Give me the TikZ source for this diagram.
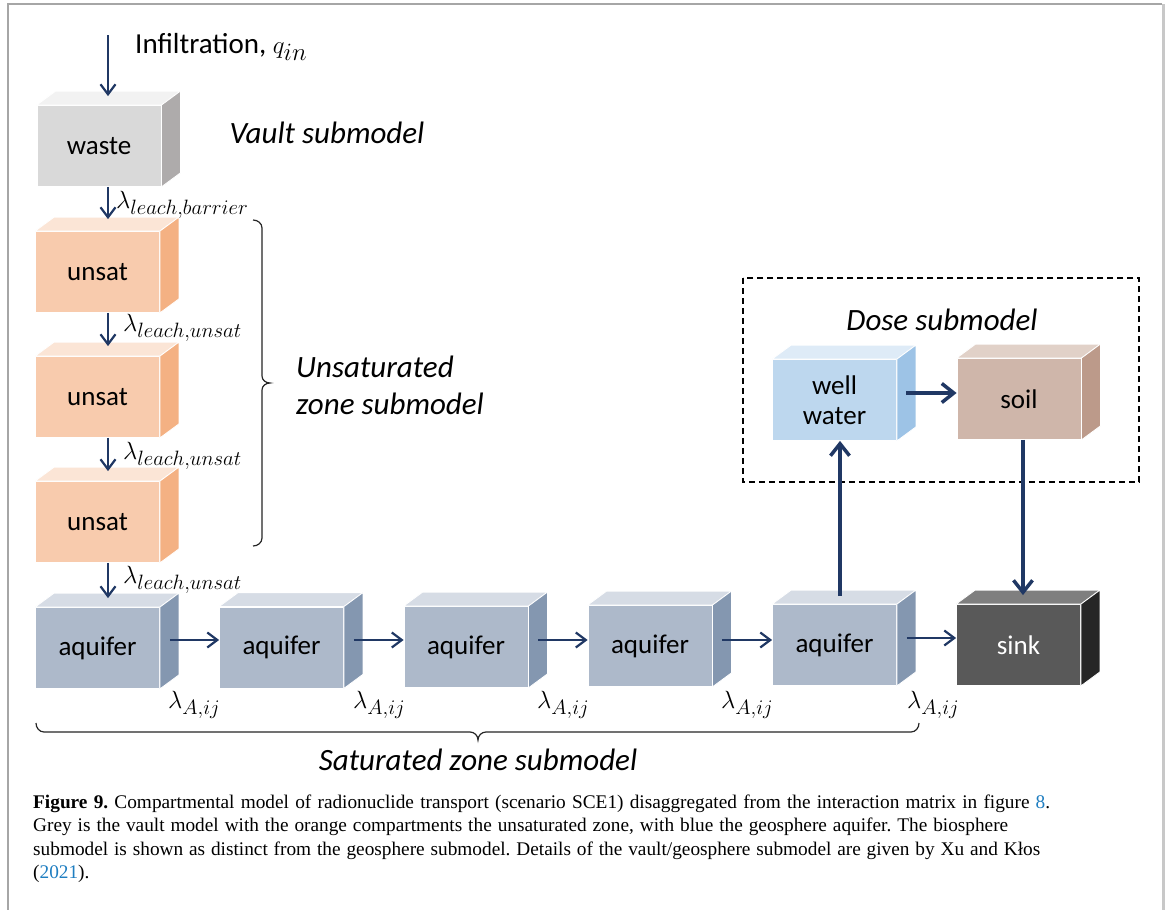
\documentclass[tikz,border=0pt]{standalone}
\usepackage{fontspec}
\usetikzlibrary{arrows.meta,calc}
\newfontfamily\boxfont{Carlito}
\newfontfamily\capfont{Liberation Serif}
\DeclareMathSizes{26}{26}{22}{17}
\DeclareMathSizes{29}{31}{24}{18}
\definecolor{navy}{HTML}{203864}
\definecolor{linkblue}{HTML}{1F7EC1}
\definecolor{framegrey}{HTML}{A6A6A6}
\definecolor{frameright}{HTML}{C8C8C8}
\definecolor{wasteF}{HTML}{D9D9D9}\definecolor{wasteT}{HTML}{F2F2F2}\definecolor{wasteS}{HTML}{AEABAB}
\definecolor{unsatF}{HTML}{F8CBAD}\definecolor{unsatT}{HTML}{FBE5D6}\definecolor{unsatS}{HTML}{F4B183}
\definecolor{aqF}{HTML}{ADB9CA}\definecolor{aqT}{HTML}{D6DCE5}\definecolor{aqS}{HTML}{8497B0}
\definecolor{wellF}{HTML}{BDD7EE}\definecolor{wellT}{HTML}{DEEBF7}\definecolor{wellS}{HTML}{9DC3E6}
\definecolor{soilF}{HTML}{CFB6AA}\definecolor{soilT}{HTML}{E1D1C8}\definecolor{soilS}{HTML}{BC9A8A}
\definecolor{sinkF}{HTML}{595959}\definecolor{sinkT}{HTML}{7F7F7F}\definecolor{sinkS}{HTML}{262626}
\tikzset{
 cub/.style={draw=white, line width=0.8pt, minimum width=124pt, minimum height=81pt, inner sep=0pt, align=center,
   font=\boxfont\fontsize{27}{30}\selectfont},
 arr/.style={draw=navy, line width=2.2pt, -{Straight Barb[length=10pt,width=15pt]}},
 tarr/.style={draw=navy, line width=3.5pt, -{Straight Barb[length=12pt,width=19pt]}},
 lab/.style={anchor=west, inner sep=0pt, font=\fontsize{26}{30}\selectfont},
 subm/.style={font=\boxfont\itshape\fontsize{31}{37}\selectfont, inner sep=0pt},
 captxt/.style={anchor=base west, inner sep=0pt, font=\capfont\fontsize{19.3}{23}\selectfont\frenchspacing},
 bracestyle/.style={draw=black!85, line width=1.2pt}
}
\newcommand\cuboid[7]{%
 \node[cub, fill=#4] (#1) at (#2,#3) {#7};
 \filldraw[fill=#5, draw=white, line width=0.8pt] (#1.north west) -- ++(19,-14) -- ($(#1.north east)+(19,-14)$) -- (#1.north east) -- cycle;
 \filldraw[fill=#6, draw=white, line width=0.8pt] (#1.north east) -- ++(19,-14) -- ($(#1.south east)+(19,-14)$) -- (#1.south east) -- cycle;
}
\begin{document}
\begin{tikzpicture}[x=1pt,y=-1pt]
\useasboundingbox (0,0) rectangle (1167,910);
\fill[white] (0,0) rectangle (1167,910);
% frame
\draw[framegrey, line width=1.5pt] (8,910) -- (8,4) -- (1162,4);
\draw[frameright, line width=3pt] (1163,4) -- (1163,910);

% boxes
\cuboid{waste}{99}{146}{wasteF}{wasteT}{wasteS}{waste}
\cuboid{unsatA}{97.5}{272}{unsatF}{unsatT}{unsatS}{unsat}
\cuboid{unsatB}{97.5}{397}{unsatF}{unsatT}{unsatS}{unsat}
\cuboid{unsatC}{97.5}{522}{unsatF}{unsatT}{unsatS}{unsat}
\cuboid{aqA}{97.5}{648}{aqF}{aqT}{aqS}{aquifer}
\cuboid{aqB}{281.5}{647.5}{aqF}{aqT}{aqS}{aquifer}
\cuboid{aqC}{466}{647}{aqF}{aqT}{aqS}{aquifer}
\cuboid{aqD}{650}{646}{aqF}{aqT}{aqS}{aquifer}
\cuboid{aqE}{834.5}{645}{aqF}{aqT}{aqS}{aquifer}
\cuboid{sink}{1018.5}{645}{sinkF}{sinkT}{sinkS}{\textcolor{white}{sink}}
\cuboid{well}{834.5}{400}{wellF}{wellT}{wellS}{well\\water}
\cuboid{soil}{1019}{399}{soilF}{soilT}{soilS}{soil}

% dashed dose box
\draw[black, line width=2pt, dash pattern=on 6pt off 4pt] (743,278) rectangle (1139,482);

% texts
\node[anchor=base west, inner sep=0pt, font=\boxfont\fontsize{29}{32}\selectfont] (inftxt) at (135,53) {Infiltration, $q_{in}$};
\node[subm] (vault) at (327,133) {Vault submodel};
\node[subm, anchor=west, align=left] (unsz) at (296,385) {Unsaturated\\zone submodel};
\node[subm] (dose) at (942,320) {Dose submodel};
\node[subm] (satz) at (478,760) {Saturated zone submodel};

% vertical arrows in the left column
\coordinate (inf) at (108,35);
\draw[arr] (inf) -- ([xshift=9pt,yshift=9pt]waste.north);
\draw[arr] ([xshift=9pt]waste.south) -- ([xshift=10.5pt,yshift=12pt]unsatA.north);
\draw[arr] ([xshift=10.5pt]unsatA.south) -- ([xshift=10.5pt,yshift=10pt]unsatB.north);
\draw[arr] ([xshift=10.5pt]unsatB.south) -- ([xshift=10.5pt,yshift=10pt]unsatC.north);
\draw[arr] ([xshift=10.5pt]unsatC.south) -- ([xshift=10.5pt,yshift=9pt]aqA.north);

\node[lab] (lb1) at (116,205) {$\lambda_{leach,barrier}$};
\node[lab] (lb2) at (123,328) {$\lambda_{leach,unsat}$};
\node[lab] (lb3) at (123,456) {$\lambda_{leach,unsat}$};
\node[lab] (lb4) at (123,580) {$\lambda_{leach,unsat}$};

% horizontal aquifer arrows
\coordinate (h1) at ([xshift=10pt,yshift=8pt]aqA.east);
\draw[arr] (h1) -- (h1 -| aqB.west);
\coordinate (h2) at ([xshift=10pt,yshift=7.5pt]aqB.east);
\draw[arr] (h2) -- (h2 -| aqC.west);
\coordinate (h3) at ([xshift=10pt,yshift=7pt]aqC.east);
\draw[arr] (h3) -- (h3 -| aqD.west);
\coordinate (h4) at ([xshift=10pt,yshift=6pt]aqD.east);
\draw[arr] (h4) -- (h4 -| aqE.west);
\coordinate (h5) at ([xshift=10pt,yshift=7pt]aqE.east);
\draw[arr] (h5) -- (h5 -| sink.west);

\node[lab] (la1) at (168,705) {$\lambda_{A,ij}$};
\node[lab] (la2) at (353,705) {$\lambda_{A,ij}$};
\node[lab] (la3) at (537,705) {$\lambda_{A,ij}$};
\node[lab] (la4) at (721,705) {$\lambda_{A,ij}$};
\node[lab] (la5) at (907,705) {$\lambda_{A,ij}$};

% dose arrows
\coordinate (v1) at ([xshift=5.5pt,yshift=8pt]aqE.north);
\draw[tarr] (v1) -- (v1 |- well.south);
\coordinate (w1) at ([xshift=9.5pt,yshift=7pt]well.east);
\draw[tarr] (w1) -- (w1 -| soil.west);
\coordinate (s1) at ([xshift=4pt]soil.south);
\coordinate (s2) at ([xshift=4.5pt,yshift=9pt]sink.north);
\draw[tarr] (s1) -- (s2);

% braces
\draw[bracestyle] (253,220) to[out=0,in=90] (262,228) -- (262,376) to[out=-90,in=180] (270,383) to[out=180,in=90] (262,390) -- (262,538) to[out=-90,in=0] (253,546);
\draw[bracestyle] (36,723) to[out=-90,in=180] (44,732) -- (470,732) to[out=0,in=90] (478,740) to[out=90,in=180] (486,732) -- (911,732) to[out=0,in=-90] (919,723);

% caption
\node[captxt] (c1) at (33,808) {\hbox to 1017pt{\textbf{Figure 9.} Compartmental model of radionuclide transport (scenario SCE1) disaggregated from the interaction matrix in figure \textcolor{linkblue}{8}.}};
\node[captxt] (c2) at (33,831) {\hbox to 975pt{Grey is the vault model with the orange compartments the unsaturated zone, with blue the geosphere aquifer. The biosphere}};
\node[captxt] (c3) at (33,855) {\hbox to 1007pt{submodel is shown as distinct from the geosphere submodel. Details of the vault/geosphere submodel are given by Xu and Kłos}};
\node[captxt] (c4) at (33,878) {(\textcolor{linkblue}{2021}).};
\end{tikzpicture}
\end{document}
